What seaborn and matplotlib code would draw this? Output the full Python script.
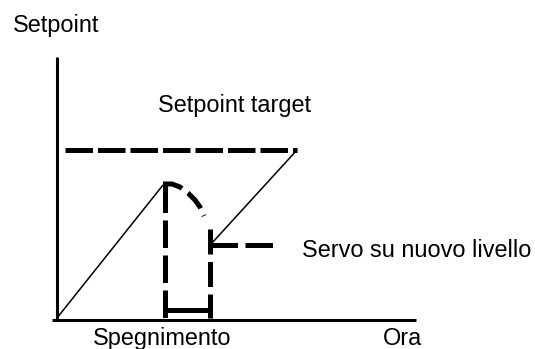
import matplotlib
matplotlib.use("Agg")
import matplotlib.pyplot as plt
import seaborn as sns
import pandas as pd

sns.set_style("white")
plt.rcParams['font.family'] = ['Liberation Sans', 'DejaVu Sans']
plt.rcParams['text.color'] = 'black'

# Schematic data (time units, setpoint units)
axis_y_t = [0, 0]
axis_y_v = [0, 263]
axis_x_t = [-5, 359]
axis_x_v = [0, 0]
target_t = [8, 240]
target_v = [170, 170]
ramp_t = [0, 106]
ramp_v = [2, 135]
arc_t = [106, 115, 123, 131, 138, 143, 147]
arc_v = [136, 136, 133, 127, 120, 113, 104]
off_left_t = [108, 108]
off_left_v = [135, 2]
off_right_t = [153, 153]
off_right_v = [91, 2]
bar_t = [108, 153]
bar_v = [10, 10]
return_t = [240, 155]
return_v = [170, 77]
servo_t = [153, 222]
servo_v = [75, 75]

labels = {
    "ylabel": "Setpoint",
    "target": "Setpoint target",
    "off": "Spegnimento",
    "xlabel": "Ora",
    "servo": "Servo su nuovo livello",
}

fig = plt.figure(figsize=(5.35, 3.49), dpi=100)
ax = fig.add_axes([0, 0, 1, 1])

def draw(t, v, lw, dashes=None):
    df = pd.DataFrame({"t": t, "v": v})
    sns.lineplot(data=df, x="t", y="v", ax=ax, estimator=None, sort=False,
                 color="black", linewidth=lw)
    ln = ax.lines[-1]
    ln.set_solid_capstyle("butt")
    ln.set_dash_capstyle("butt")
    if dashes is not None:
        ln.set_dashes(dashes)

draw(axis_y_t, axis_y_v, 2.2)
draw(axis_x_t, axis_x_v, 2.2)
draw(target_t, target_v, 3.6, [5.5, 1.0])
draw(ramp_t, ramp_v, 1.1)
draw(arc_t, arc_v, 3.6, [4.0, 1.5])
draw(off_left_t, off_left_v, 3.6, [5.5, 1.5])
draw(off_right_t, off_right_v, 3.6, [5.0, 1.5])
draw(bar_t, bar_v, 3.6)
draw(return_t, return_v, 1.1)
draw(servo_t, servo_v, 3.6, [5.5, 1.5])

ax.set_xlim(-57, 478)
ax.set_ylim(-29, 320)
ax.axis("off")

fs = 16.9
kw = dict(fontsize=fs, va="baseline", color="black")
ax.text(-44, 288, labels["ylabel"], ha="left", **kw)
ax.text(101, 208, labels["target"], ha="left", **kw)
ax.text(105, -25, labels["off"], ha="center", **kw)
ax.text(326, -25, labels["xlabel"], ha="left", **kw)
ax.text(245, 63, labels["servo"], ha="left", **kw)

fig.savefig("out.png", dpi=100)
